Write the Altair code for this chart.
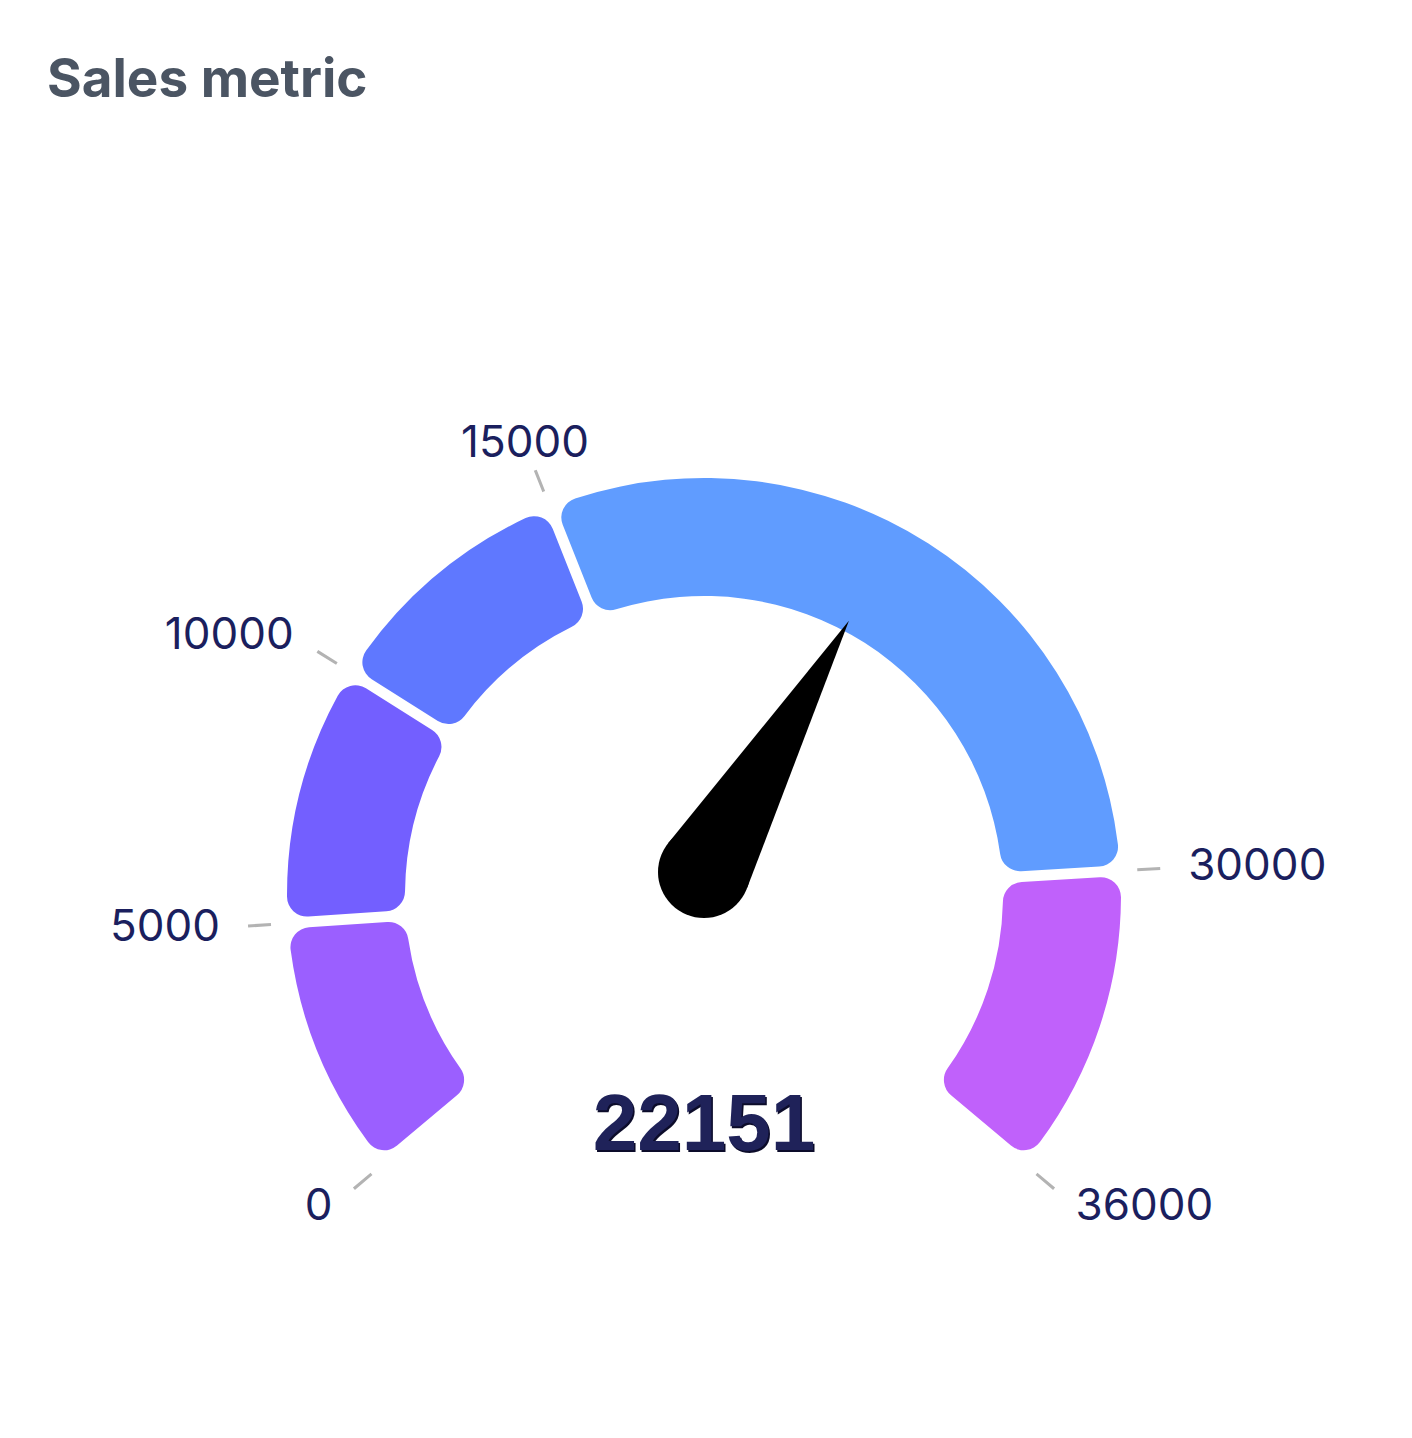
import math
import altair as alt
import pandas as pd

# ---- data ----
title_text = "Sales metric"
gauge_min = 0
gauge_max = 36000
current_value = 22151

band_starts = [0, 5000, 10000, 15000, 30000]
band_ends = [5000, 10000, 15000, 30000, 36000]
band_colors = ["#9B5FFF", "#735FFF", "#5F78FF", "#609CFF", "#C061FB"]

tick_values = [0, 5000, 10000, 15000, 30000, 36000]
tick_labels = ["0", "5000", "10000", "15000", "30000", "36000"]

# ---- layout (pixels inside the plot area) ----
W, H = 1396, 1422
CX, CY = 696, 887          # gauge centre
PX, PY = 696, 864          # needle pivot
SWEEP = 130                # degrees either side of the top

bands = pd.DataFrame({"start": band_starts, "end": band_ends, "color": band_colors})
ticks = pd.DataFrame({"value": tick_values, "label": tick_labels})
needle = pd.DataFrame({"value": [current_value], "label": [str(current_value)]})
title_df = pd.DataFrame({"t": [title_text]})

theta_scale = alt.Scale(
    domain=[gauge_min, gauge_max],
    range=[math.radians(360 - SWEEP), math.radians(360 + SWEEP)],
)

bands_layer = alt.Chart(bands).mark_arc(
    radius=417, radius2=299, cornerRadius=20, padAngle=0.021
).encode(
    theta=alt.Theta("start:Q", scale=theta_scale, stack=None),
    theta2="end:Q",
    color=alt.Color("color:N", scale=None),
    x=alt.value(CX),
    y=alt.value(CY),
)

tick_half = 27  # half tick width in data units
tick_layer = alt.Chart(ticks).transform_calculate(
    t1=f"datum.value - {tick_half}", t2=f"datum.value + {tick_half}"
).mark_arc(radius=457, radius2=434, color="#B3B3B3").encode(
    theta=alt.Theta("t1:Q", scale=theta_scale, stack=None),
    theta2="t2:Q",
    x=alt.value(CX),
    y=alt.value(CY),
)

label_common = dict(radius=485, baseline="middle", font="Inter", fontSize=44, color="#1B1F5E")


def label_layer(expr, align):
    return alt.Chart(ticks).transform_filter(expr).mark_text(align=align, **label_common).encode(
        theta=alt.Theta("value:Q", scale=theta_scale, stack=None),
        text="label:N",
        x=alt.value(CX),
        y=alt.value(CY),
    )


labels_left = label_layer("datum.value < 12000", "right")
labels_top = label_layer("datum.value >= 12000 && datum.value < 20000", "center")
labels_right = label_layer("datum.value >= 20000", "left")

# needle: a tapered triangle rotated by the value, plus the round hub
r_hub = 46 / 290
alpha = math.acos(r_hub)
tx, ty = r_hub * math.sin(alpha), -r_hub * math.cos(alpha)
needle_path = f"M 0 -1 L {tx:.4f} {ty:.4f} L {-tx:.4f} {ty:.4f} Z"

needle_layer = alt.Chart(needle).mark_point(
    shape=needle_path, filled=True, color="#000000", opacity=1, strokeWidth=0
).encode(
    x=alt.value(PX),
    y=alt.value(PY),
    angle=alt.Angle("value:Q", scale=alt.Scale(domain=[gauge_min, gauge_max], range=[360 - SWEEP, 360 + SWEEP])),
    size=alt.value((2 * 290) ** 2),
)

hub_layer = alt.Chart(needle).mark_point(
    shape="circle", filled=True, color="#000000", opacity=1, strokeWidth=0
).encode(
    x=alt.value(PX),
    y=alt.value(PY),
    size=alt.value(92 ** 2),
)

value_shadow = alt.Chart(needle).mark_text(
    font="Liberation Sans", fontWeight="bold", fontSize=80, color="#0C0C2A",
    align="center", baseline="alphabetic", dx=1.5, dy=1.5,
).encode(text="label:N", x=alt.value(CX), y=alt.value(1142))

value_text = alt.Chart(needle).mark_text(
    font="Liberation Sans", fontWeight="bold", fontSize=80, color="#1F2259",
    align="center", baseline="alphabetic",
).encode(text="label:N", x=alt.value(CX), y=alt.value(1142))

title_layer = alt.Chart(title_df).mark_text(
    font="Inter", fontWeight="bold", fontSize=53, color="#4B5563",
    align="left", baseline="alphabetic",
).encode(text="t:N", x=alt.value(39), y=alt.value(89))

chart = alt.layer(
    bands_layer, tick_layer, labels_left, labels_top, labels_right,
    needle_layer, hub_layer, value_shadow, value_text, title_layer,
).properties(
    width=W, height=H, padding=0, autosize=alt.AutoSizeParams(type="none"), background="white"
).configure_view(stroke=None)

chart.save("out.html", embed_options={"renderer": "svg", "actions": False})
